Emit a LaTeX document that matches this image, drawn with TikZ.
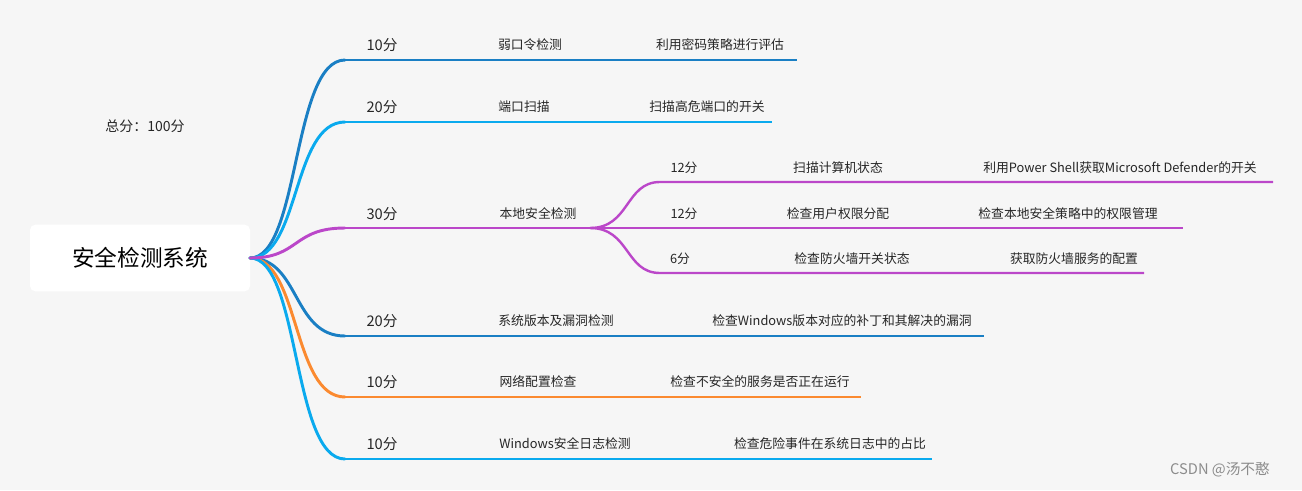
\documentclass[tikz,border=0pt]{standalone}
\usepackage{fontspec}
\setmainfont{Noto Sans CJK SC}
\begin{document}
\definecolor{bgcol}{HTML}{F6F6F6}
\definecolor{dblue}{HTML}{1A7FC4}
\definecolor{lblue}{HTML}{0AAAEE}
\definecolor{purp}{HTML}{BB47C9}
\definecolor{orng}{HTML}{FB8A30}
\begin{tikzpicture}[x=0.75pt,y=-0.75pt,
  leaf/.style = {font=\fontsize{9.6}{11}\selectfont, text=black!85},
  score/.style = {font=\fontsize{11}{12}\selectfont, text=black!85},
  branch/.style = {line width=2.2pt, line cap=round}]
\fill[bgcol] (0,0) rectangle (1302,490);
\useasboundingbox (0,0) rectangle (1302,490);
\node[fill=white, rounded corners=4pt, minimum width=165pt, minimum height=50pt,
  font=\fontsize{17}{19}\selectfont] (root) at (140,258) {安全检测系统};
\coordinate (hub) at (250,258);
\node[leaf, font=\fontsize{10.5}{12}\selectfont] (total) at (145,126) {总分：100分};
% main branches
\foreach \y/\e/\c/\s/\a/\ax/\b/\bx [count=\i] in {
  60/797/dblue/10分/弱口令检测/530/利用密码策略进行评估/720,
  122/772/lblue/20分/端口扫描/524/扫描高危端口的开关/707,
  336/984/dblue/20分/系统版本及漏洞检测/556/检查Windows版本对应的补丁和其解决的漏洞/842,
  397/861/orng/10分/网络配置检查/538/检查不安全的服务是否正在运行/760,
  459/932/lblue/10分/Windows安全日志检测/565/检查危险事件在系统日志中的占比/830} {
  \coordinate (m\i) at (345,\y);
  \coordinate (e\i) at (\e,\y);
  \draw[branch, \c] (hub) .. controls (300,258) and (292,\y) .. (m\i);
  \draw[\c, line width=1.6pt] (m\i) -- (e\i);
  \node[score] (s\i) at (382,\y-15) {\s};
  \node[leaf] (a\i) at (\ax,\y-15) {\a};
  \node[leaf] (b\i) at (\bx,\y-15) {\b};
}
% local check branch
\coordinate (mloc) at (345,228);
\coordinate (split) at (590,228);
\draw[branch, purp] (hub) .. controls (300,258) and (292,228) .. (mloc);
\draw[purp, line width=1.6pt] (mloc) -- (split);
\node[score] (sloc) at (382,214) {30分};
\node[leaf] (aloc) at (538,214) {本地安全检测};
\foreach \y/\e/\s/\sx/\a/\ax/\b/\bx [count=\j] in {
  182/1273/12分/684/扫描计算机状态/838/利用Power Shell获取Microsoft Defender的开关/1120,
  228/1183/12分/684/检查用户权限分配/838/检查本地安全策略中的权限管理/1068,
  273/1144/6分/680/检查防火墙开关状态/852/获取防火墙服务的配置/1074} {
  \coordinate (k\j) at (660,\y);
  \coordinate (f\j) at (\e,\y);
  \draw[purp, line width=1.8pt] (split) .. controls (630,228) and (625,\y) .. (k\j) -- (f\j);
  \node[leaf] (ss\j) at (\sx,\y-14) {\s};
  \node[leaf] (sa\j) at (\ax,\y-14) {\a};
  \node[leaf] (sb\j) at (\bx,\y-14) {\b};
}
\node[font=\fontsize{11}{12}\selectfont, text=black!45] (mark) at (1220,470) {CSDN @汤不憨};
\end{tikzpicture}
\end{document}
